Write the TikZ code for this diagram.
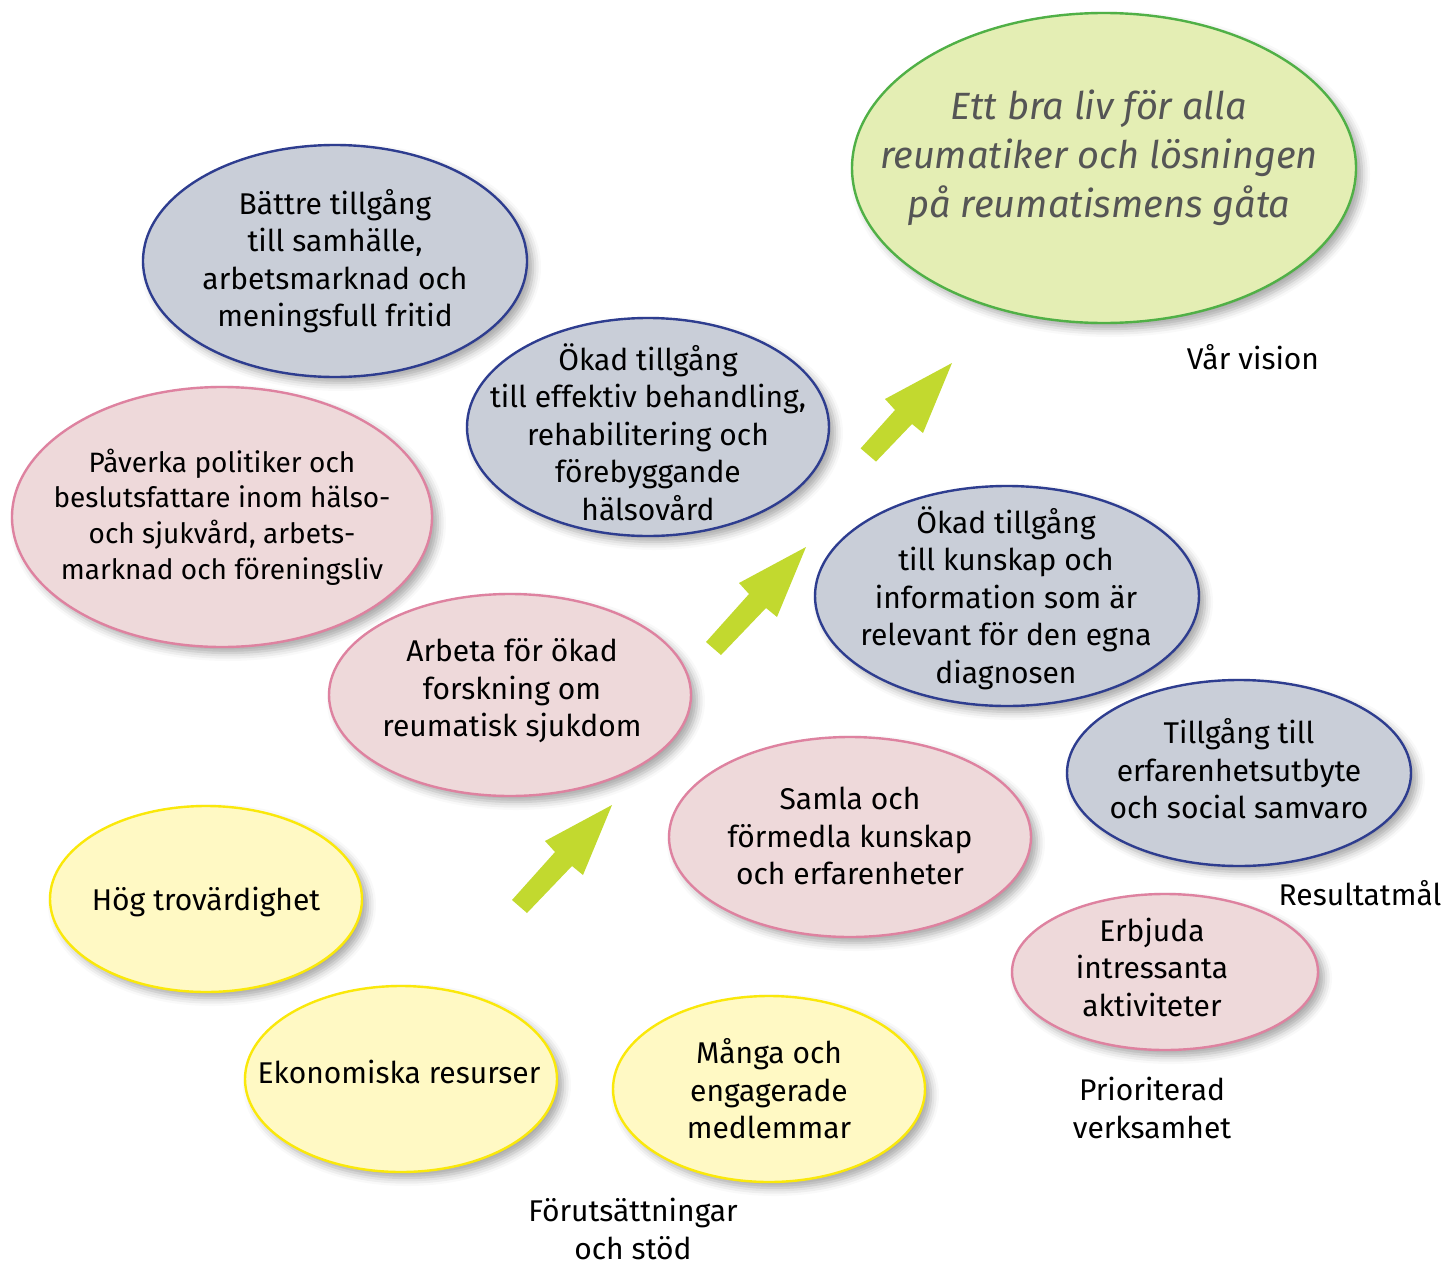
\documentclass[tikz,border=0pt]{standalone}
\usepackage{fontspec}
\setmainfont{Fira Sans}
\usepackage{tikz}
\usetikzlibrary{shapes.geometric}
\usetikzlibrary{shadows.blur}
\definecolor{goalfill}{RGB}{201,206,216}
\definecolor{goalline}{RGB}{46,61,143}
\definecolor{workfill}{RGB}{238,217,218}
\definecolor{workline}{RGB}{222,130,160}
\definecolor{basefill}{RGB}{255,249,196}
\definecolor{baseedge}{RGB}{250,232,10}
\definecolor{visionfill}{RGB}{228,238,180}
\definecolor{visionline}{RGB}{80,176,70}
\definecolor{visiontext}{RGB}{85,85,85}
\definecolor{accent}{RGB}{194,217,47}

\begin{document}
\begin{tikzpicture}[%
  x=0.5pt, y=-0.5pt,
  oval/.style={ellipse, inner sep=0pt, line width=1.2pt,
    blur shadow={shadow xshift=3pt, shadow yshift=-3pt,
      shadow blur radius=4pt, shadow opacity=35}},
  goaloval/.style={oval, fill=goalfill, draw=goalline},
  workoval/.style={oval, fill=workfill, draw=workline},
  baseoval/.style={oval, fill=basefill, draw=baseedge},
  visionoval/.style={oval, fill=visionfill, draw=visionline},
  txt/.style={align=center, inner sep=1pt, font=\fontsize{15}{18.75}\selectfont},
  tag/.style={txt},
]

  \useasboundingbox (0,0) rectangle (1456,1269);

  % Vision
  \node[visionoval, minimum width=252pt, minimum height=155pt] (vision) at (1104,168) {};
  \node[txt, text=visiontext, font=\fontsize{19}{24.5}\selectfont\itshape] (visiontext) at (1099,158)
    {Ett bra liv för alla\\reumatiker och lösningen\\på reumatismens gåta};
  \node[tag] (visiontag) at (1253,357) {Vår vision};

  % Resultatmål
  \node[goaloval, minimum width=192pt, minimum height=116pt] (society) at (335,261) {};
  \node[txt] (societytext) at (335,261)
    {Bättre tillgång\\till samhälle,\\arbetsmarknad och\\meningsfull fritid};
  \node[goaloval, minimum width=181pt, minimum height=109pt] (care) at (648,427) {};
  \node[txt] (caretext) at (648,432)
    {Ökad tillgång\\till effektiv behandling,\\rehabilitering och\\förebyggande\\hälsovård};
  \node[goaloval, minimum width=192pt, minimum height=110pt] (knowledge) at (1007,596) {};
  \node[txt] (knowledgetext) at (1006,598)
    {Ökad tillgång\\till kunskap och\\information som är\\relevant för den egna\\diagnosen};
  \node[goaloval, minimum width=172pt, minimum height=93pt] (exchange) at (1239,773) {};
  \node[txt] (exchangetext) at (1239,769)
    {Tillgång till\\erfarenhetsutbyte\\och social samvaro};
  \node[tag] (goaltag) at (1360,893) {Resultatmål};

  % Prioriterad verksamhet
  \node[workoval, minimum width=210pt, minimum height=130pt] (lobby) at (222,517) {};
  \node[txt, font=\fontsize{14}{17.9}\selectfont] (lobbytext) at (222,517)
    {Påverka politiker och\\beslutsfattare inom hälso-\\och sjukvård, arbets-\\marknad och föreningsliv};
  \node[workoval, minimum width=181pt, minimum height=101pt] (research) at (510,695) {};
  \node[txt] (researchtext) at (512,691)
    {Arbeta för ökad\\forskning om\\reumatisk sjukdom};
  \node[workoval, minimum width=181pt, minimum height=100pt] (share) at (850,837) {};
  \node[txt] (sharetext) at (850,836)
    {Samla och\\förmedla kunskap\\och erfarenheter};
  \node[workoval, minimum width=153pt, minimum height=78pt] (events) at (1165,972) {};
  \node[txt] (eventstext) at (1152,967)
    {Erbjuda\\intressanta\\aktiviteter};
  \node[tag] (worktag) at (1152,1108) {Prioriterad\\verksamhet};

  % Förutsättningar och stöd
  \node[baseoval, minimum width=156pt, minimum height=93pt] (trust) at (206,899) {};
  \node[txt] (trusttext) at (206,902) {Hög trovärdighet};
  \node[baseoval, minimum width=156pt, minimum height=93pt] (funds) at (401,1079) {};
  \node[txt] (fundstext) at (399,1072) {Ekonomiska resurser};
  \node[baseoval, minimum width=156pt, minimum height=93pt] (members) at (769,1089) {};
  \node[txt] (memberstext) at (769,1089)
    {Många och\\engagerade\\medlemmar};
  \node[tag] (basetag) at (633,1229) {Förutsättningar\\och stöd};

  % Arrows
  \foreach \x/\y/\t in {612/805/1, 806/547/1, 952/363/0.8}
    \fill[accent, shift={(\x,\y)}] (0,0) -- (-29,70) -- (-40,61)
      -- ({-40-45*\t},{61+47*\t}) -- ({-57-43*\t},{47+48*\t})
      -- (-57,47) -- (-67,36) -- cycle;

\end{tikzpicture}
\end{document}
